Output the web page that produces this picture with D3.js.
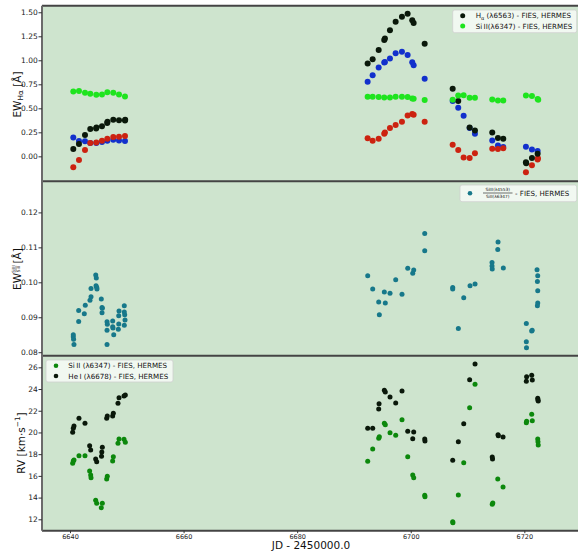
<!DOCTYPE html>
<html><head><meta charset="utf-8">
<script src="https://cdn.jsdelivr.net/npm/d3@7"></script>
<style>
body{margin:0;background:#fff;}
svg{display:block;font-family:"DejaVu Sans",sans-serif;}
</style></head><body>
<svg id="c" width="578" height="551"></svg>
<script>
// ---------- DATA ----------
// Top panel: equivalent widths (Å)
const haJD  = [6640.58,6641.58,6642.64,6643.57,6644.60,6644.66,6645.63,6646.55,6646.60,6647.62,6648.63,6649.68,6649.72,
               6692.41,6693.29,6694.35,6695.33,6695.45,6696.34,6697.34,6698.45,6699.45,6700.26,6700.51,6702.45,
               6707.38,6708.36,6710.37,6711.30,6714.35,6715.35,6716.29,6720.28,6720.33,6721.34,6722.34];
const haEW  = [0.077,0.129,0.222,0.285,0.290,0.300,0.312,0.348,0.360,0.381,0.377,0.373,0.380,
               0.966,1.011,1.108,1.212,1.226,1.313,1.402,1.454,1.485,1.416,1.388,1.173,
               0.703,0.575,0.300,0.270,0.249,0.191,0.184,-0.062,-0.072,-0.017,0.028];
const si2JD = [6640.58,6641.58,6642.64,6643.57,6644.63,6645.63,6646.57,6647.62,6648.63,6649.68,
               6692.41,6693.29,6694.35,6695.33,6696.34,6697.34,6698.45,6699.45,6700.26,6700.51,6702.45,
               6707.38,6708.36,6709.31,6710.37,6711.30,6714.35,6715.35,6716.29,6720.28,6721.34,6722.34,6722.45];
const si2EW = [0.675,0.679,0.661,0.651,0.640,0.644,0.668,0.661,0.644,0.623,
               0.620,0.620,0.617,0.613,0.613,0.620,0.620,0.617,0.603,0.599,0.586,
               0.589,0.633,0.637,0.610,0.610,0.592,0.582,0.582,0.633,0.627,0.596,0.590];
const blueJD = [6640.58,6641.58,6642.64,6643.57,6644.63,6645.63,6646.57,6647.62,6648.63,6649.68,
                6692.41,6693.29,6694.35,6695.33,6695.45,6696.34,6697.34,6698.45,6699.45,6700.26,6700.51,6702.45,
                6707.38,6708.36,6709.31,6710.37,6711.30,6714.35,6715.35,6716.29,6720.28,6721.34,6722.34];
const blueEW = [0.197,0.160,0.156,0.139,0.139,0.150,0.163,0.173,0.166,0.160,
                0.776,0.845,0.924,0.976,0.983,1.018,1.074,1.090,1.056,0.980,0.949,0.807,
                0.575,0.506,0.423,0.295,0.236,0.166,0.114,0.098,0.101,0.070,0.056];
const redJD = [6640.58,6641.58,6642.64,6643.57,6644.63,6645.63,6646.57,6647.62,6648.63,6649.68,
               6692.41,6693.29,6694.35,6695.33,6695.45,6696.34,6697.34,6698.45,6699.45,6700.26,6700.51,6702.45,
               6707.38,6708.36,6709.31,6710.37,6711.30,6714.35,6715.35,6716.29,6720.28,6721.34,6722.34,6722.40];
const redEW = [-0.114,-0.037,0.066,0.139,0.145,0.163,0.184,0.201,0.205,0.212,
               0.187,0.163,0.184,0.236,0.249,0.295,0.326,0.360,0.426,0.440,0.433,0.360,
               0.121,0.066,-0.013,-0.017,0.031,0.080,0.077,0.083,-0.166,-0.093,-0.034,-0.021];

// Middle panel: SiIII/SiII EW ratio
const ratioJD = [6640.58,6640.58,6640.63,6640.70,6641.53,6641.53,6642.52,6642.69,6643.52,6643.70,6643.70,
                 6644.53,6644.63,6644.58,6644.70,6644.75,6645.51,6645.64,6645.69,6645.64,
                 6646.52,6646.57,6646.52,6646.52,6647.52,6647.52,6647.57,6647.70,
                 6648.58,6648.58,6648.63,6648.51,6649.56,6649.56,6649.63,6649.69,6649.56,
                 6692.42,6693.30,6694.36,6694.47,6695.35,6695.52,6696.35,6697.35,6698.46,6699.47,6700.35,6700.52,
                 6702.46,6702.46,6707.39,6707.39,6708.38,6709.33,6710.44,6711.32,
                 6714.31,6714.31,6714.35,6715.32,6715.37,6716.30,
                 6720.35,6720.35,6720.38,6721.30,6721.38,6722.24,6722.36,6722.30,6722.36,6722.36,6722.30];
const ratioEW = [0.0850,0.0844,0.0837,0.0822,0.0888,0.0919,0.0910,0.0934,0.0949,0.0959,0.0982,
                 0.1021,0.1012,0.0990,0.0986,0.0981,0.0952,0.0928,0.0926,0.0913,
                 0.0887,0.0880,0.0863,0.0822,0.0889,0.0873,0.0869,0.0850,
                 0.0904,0.0881,0.0918,0.0866,0.0933,0.0915,0.0907,0.0892,0.0877,
                 0.1019,0.0981,0.0944,0.0907,0.0972,0.0941,0.0969,0.1007,0.0966,0.1040,0.1026,0.1035,
                 0.1140,0.1090,0.0985,0.0981,0.0868,0.0956,0.0990,0.0995,
                 0.1057,0.1047,0.1038,0.1094,0.1115,0.1041,
                 0.0882,0.0830,0.0813,0.0861,0.0863,0.1036,0.1019,0.1002,0.0976,0.0941,0.0933];

// Bottom panel: radial velocities (km/s)
const rvSiJD = [6640.47,6640.58,6640.70,6641.58,6642.64,6643.46,6643.64,6643.70,6644.52,6644.70,6645.51,6645.69,
                6646.46,6646.57,6647.51,6647.63,6648.45,6648.63,6649.51,6649.74,
                6692.42,6693.30,6694.36,6694.47,6695.35,6695.52,6696.35,6697.35,6698.46,6699.47,6700.35,6700.52,
                6702.46,6702.50,6707.39,6707.42,6708.38,6709.33,6710.37,6711.32,6714.35,6714.45,6715.32,6716.25,
                6720.35,6720.40,6721.30,6721.40,6722.36,6722.40,6722.45];
const rvSi   = [17.16,17.37,17.46,17.86,17.86,16.45,16.09,15.83,13.75,13.48,13.07,13.48,
                15.71,15.96,17.37,17.77,19.00,19.40,19.37,19.09,
                17.34,18.48,19.46,19.61,20.84,20.71,19.98,19.74,21.17,17.77,16.08,15.83,
                14.21,14.08,11.78,11.69,14.24,17.22,22.28,24.43,13.38,13.50,15.71,14.98,
                20.90,21.03,21.67,21.08,19.40,19.15,18.85];
const rvHeJD = [6640.47,6640.58,6640.70,6641.58,6642.64,6643.46,6643.64,6644.52,6644.70,6645.55,6645.60,6645.69,
                6646.46,6646.57,6647.51,6647.63,6648.45,6648.63,6649.51,6649.74,
                6692.42,6693.30,6694.36,6694.42,6695.35,6695.52,6696.35,6697.35,6698.46,6699.47,6700.35,6700.52,
                6702.46,6702.50,6707.39,6708.38,6709.33,6710.37,6711.32,6714.35,6714.40,6715.37,6715.42,6716.25,
                6720.35,6720.40,6721.30,6721.40,6722.36,6722.40,6722.45];
const rvHe   = [20.01,20.38,20.59,21.30,20.84,18.78,18.38,17.56,17.31,17.80,18.20,18.63,
                21.30,21.52,21.52,21.76,22.68,23.20,23.36,23.45,
                20.38,20.38,22.16,22.65,23.88,23.73,23.27,22.71,23.82,20.11,19.43,20.04,
                19.40,19.21,17.44,19.15,20.81,24.86,26.30,17.74,17.56,19.79,19.70,19.58,
                24.71,25.13,25.26,24.83,23.15,22.99,22.90];

const xTicks = [6640,6660,6680,6700,6720];
const topTicks = [0.00,0.25,0.50,0.75,1.00,1.25,1.50];
const midTicks = [0.08,0.09,0.10,0.11,0.12];
const botTicks = [12,14,16,18,20,22,24,26];
const xLabel = "JD - 2450000.0";

// ---------- LAYOUT ----------
const svg = d3.select("#c");
const L = 42, R = 578;
const P = [{y0:5.7,y1:181.3},{y0:181.3,y1:355.7},{y0:355.7,y1:530.7}];
const BG = "rgb(206,228,206)";
const x = d3.scaleLinear().domain([6635.07,6729.45]).range([L,R]);
const yT = d3.scaleLinear().domain([-0.26,1.5685]).range([P[0].y1,P[0].y0]);
const yM = d3.scaleLinear().domain([0.079,0.1289]).range([P[1].y1,P[1].y0]);
const yB = d3.scaleLinear().domain([10.95,27.07]).range([P[2].y1,P[2].y0]);

P.forEach(p=>svg.append("rect").attr("x",L).attr("y",p.y0).attr("width",R-L).attr("height",p.y1-p.y0).attr("fill",BG));

function pts(jd, v, y, color, r){
  const g = svg.append("g");
  g.selectAll("circle").data(jd.map((d,i)=>[d,v[i]])).join("circle")
    .attr("cx",d=>x(d[0])).attr("cy",d=>y(d[1])).attr("r",r).attr("fill",color);
}
const cBlack="#0a180a", cLime="#1ee41e", cBlue="#1230cc", cRed="#cc2210", cTeal="#17788a", cGreen="#0c880c";

pts(blueJD,blueEW,yT,cBlue,3);
pts(redJD,redEW,yT,cRed,3);
pts(haJD,haEW,yT,cBlack,3);
pts(si2JD,si2EW,yT,cLime,3);
pts(ratioJD,ratioEW,yM,cTeal,2.5);
pts(rvSiJD,rvSi,yB,cGreen,2.5);
pts(rvHeJD,rvHe,yB,cBlack,2.5);

// spines
[P[0].y0,P[0].y1,P[1].y1,P[2].y1].forEach(yy=>svg.append("line").attr("x1",L).attr("x2",R).attr("y1",yy).attr("y2",yy).attr("stroke","#444").attr("stroke-width",2));
svg.append("line").attr("x1",L).attr("x2",L).attr("y1",P[0].y0).attr("y2",P[2].y1).attr("stroke","#6a6a6a").attr("stroke-width",2);

function yaxis(scale,ticks,fmt){
  const g = svg.append("g").attr("transform",`translate(${L},0)`)
    .call(d3.axisLeft(scale).tickValues(ticks).tickFormat(d3.format(fmt)).tickSize(3.5).tickPadding(0.8));
  g.select(".domain").remove();
  g.selectAll("text").attr("font-size",7.5).attr("fill","#222").attr("font-family","DejaVu Sans");
  g.selectAll("line").attr("stroke","#333");
}
yaxis(yT,topTicks,".2f");
yaxis(yM,midTicks,".2f");
yaxis(yB,botTicks,"d");
const gx = svg.append("g").attr("transform",`translate(0,${P[2].y1})`)
  .call(d3.axisBottom(x).tickValues(xTicks).tickFormat(d3.format("d")).tickSize(2.5).tickPadding(1.3));
gx.select(".domain").remove();
gx.selectAll("text").attr("font-size",6.5).attr("fill","#222").attr("font-family","DejaVu Sans");
gx.selectAll("line").attr("stroke","#333");
svg.append("text").attr("x",311).attr("y",549).attr("text-anchor","middle").attr("font-size",10.5).attr("fill","#111").text(xLabel);

// y labels
const t1 = svg.append("g").attr("transform","translate(20.5,94.5) rotate(-90)").append("text").attr("text-anchor","middle").attr("font-size",10.5).attr("fill","#111");
t1.append("tspan").text("EW");
t1.append("tspan").attr("font-size",7.3).attr("dy",2.5).text("Hα");
t1.append("tspan").attr("dy",-2.5).text(" [Å]");

const g2 = svg.append("g").attr("transform","translate(20.5,290) rotate(-90)");
g2.append("text").attr("x",0).attr("y",0).attr("font-size",10.5).attr("fill","#111").text("EW");
g2.append("text").attr("x",21).attr("y",-5.3).attr("text-anchor","middle").attr("font-size",4.2).attr("fill","#111").text("SiIII");
g2.append("line").attr("x1",17.8).attr("x2",24.2).attr("y1",-4.5).attr("y2",-4.5).attr("stroke","#111").attr("stroke-width",0.5);
g2.append("text").attr("x",21).attr("y",-0.2).attr("text-anchor","middle").attr("font-size",4.2).attr("fill","#111").text("SiII");
g2.append("text").attr("x",26.5).attr("y",0).attr("font-size",10.5).attr("fill","#111").text("[Å]");

const t3 = svg.append("g").attr("transform","translate(24.5,443) rotate(-90)").append("text").attr("text-anchor","middle").attr("font-size",10.5).attr("fill","#111");
t3.append("tspan").text("RV [km·s");
t3.append("tspan").attr("font-size",7.3).attr("dy",-4.5).text("−1");
t3.append("tspan").attr("dy",4.5).text("]");

// legends
function legendBox(x0,y0,w,h){
  svg.append("rect").attr("x",x0).attr("y",y0).attr("width",w).attr("height",h).attr("rx",2)
    .attr("fill","rgba(255,255,255,0.72)").attr("stroke","#cfcfcf").attr("stroke-width",0.8);
}
legendBox(452.7,10,124,22.7);
svg.append("circle").attr("cx",462.7).attr("cy",15.7).attr("r",2.5).attr("fill",cBlack);
svg.append("circle").attr("cx",462.7).attr("cy",26).attr("r",2.5).attr("fill",cLime);
const lt1 = svg.append("text").attr("x",475.7).attr("y",18.2).attr("font-size",7.1).attr("fill","#111");
lt1.append("tspan").text("H");
lt1.append("tspan").attr("font-size",5).attr("dy",1.8).text("α");
lt1.append("tspan").attr("dy",-1.8).text(" (λ6563) - FIES, HERMES");
svg.append("text").attr("x",475.7).attr("y",28.5).attr("font-size",7.1).attr("fill","#111").text("Si\u2009II(λ6347) - FIES, HERMES");

legendBox(460,185,116.7,16.7);
svg.append("circle").attr("cx",470).attr("cy",193.3).attr("r",2.3).attr("fill",cTeal);
svg.append("text").attr("x",497.7).attr("y",191.2).attr("text-anchor","middle").attr("font-size",4.3).attr("fill","#111").text("SiIII(λ4553)");
svg.append("line").attr("x1",483).attr("x2",512.5).attr("y1",193).attr("y2",193).attr("stroke","#111").attr("stroke-width",0.6);
svg.append("text").attr("x",497.7).attr("y",198.3).attr("text-anchor","middle").attr("font-size",4.3).attr("fill","#111").text("SiII(λ6347)");
svg.append("text").attr("x",515).attr("y",195.8).attr("font-size",7.1).attr("fill","#111").text("- FIES, HERMES");

legendBox(46,360,127,22);
svg.append("circle").attr("cx",56).attr("cy",365.7).attr("r",2.3).attr("fill",cGreen);
svg.append("circle").attr("cx",56).attr("cy",376).attr("r",2.3).attr("fill",cBlack);
svg.append("text").attr("x",68.3).attr("y",368.2).attr("font-size",7.1).attr("fill","#111").text("Si\u2009II (λ6347) - FIES, HERMES");
svg.append("text").attr("x",68.3).attr("y",378.5).attr("font-size",7.1).attr("fill","#111").text("He\u2009I (λ6678) - FIES, HERMES");
</script>
</body></html>
